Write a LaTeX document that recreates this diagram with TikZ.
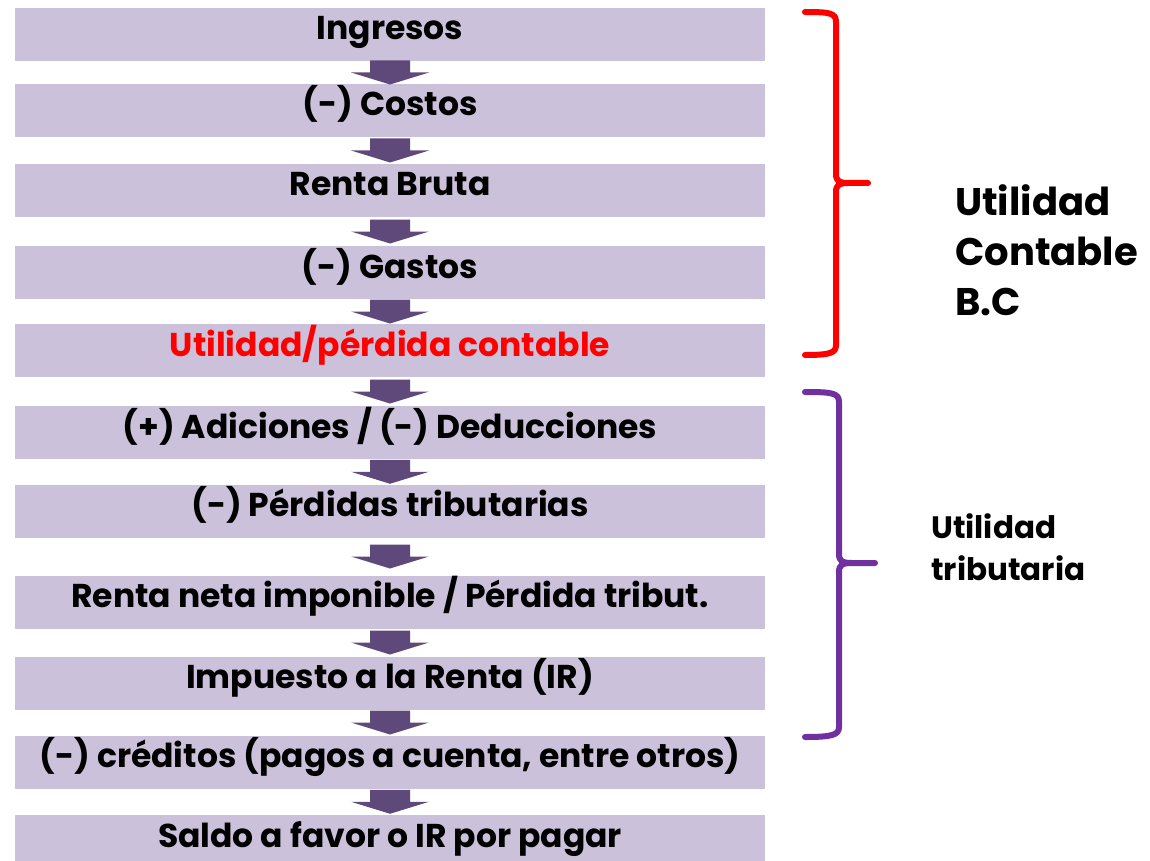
\documentclass[tikz,border=0pt]{standalone}
\usepackage{fontspec}
\setmainfont{Poppins}[BoldFont={* Bold}]
\usetikzlibrary{calc}
\definecolor{boxfill}{HTML}{CCC1DA}
\definecolor{arrowfill}{HTML}{5F497A}
\definecolor{bracered}{HTML}{FF0000}
\definecolor{bracepurple}{HTML}{7030A0}
\tikzset{
  flowbox/.style={fill=boxfill, draw=none, minimum width=750pt, inner xsep=0pt, inner ysep=0pt,
    text height=32pt, text depth=21pt, minimum height=53pt, font=\fontsize{33}{38}\selectfont\bfseries},
  flowarrow/.style={fill=arrowfill, draw=none},
  bracestroke/.style={line width=6pt, line cap=round, line join=round},
  sidelabel/.style={anchor=north west, align=left, inner sep=0pt, font=\bfseries},
}
\newcommand{\downarrowbetween}[2]{%
  \path let \p1=($(#1.south)!0.5!(#2.north)$) in
    [flowarrow] (\x1-20pt,\y1+12pt) -- (\x1+20pt,\y1+12pt) -- (\x1+20pt,\y1) -- (\x1+39pt,\y1)
    -- (\x1,\y1-12pt) -- (\x1-39pt,\y1) -- (\x1-20pt,\y1) -- cycle;}
\begin{document}
\begin{tikzpicture}[x=1pt,y=-1pt]
\clip (0,0) rectangle (1150,861);
\useasboundingbox (0,0) rectangle (1150,861);
\node[flowbox] (b1) at (390,34.5) {Ingresos};
\node[flowbox] (b2) at (390,110.5) {(-) Costos};
\node[flowbox] (b3) at (390,190.5) {Renta Bruta};
\node[flowbox] (b4) at (390,272.5) {(-) Gastos};
\node[flowbox, text=bracered] (b5) at (390,350.5) {Utilidad/pérdida contable};
\node[flowbox] (b6) at (390,432.5) {(+) Adiciones / (-) Deducciones};
\node[flowbox] (b7) at (390,511) {(-) Pérdidas tributarias};
\node[flowbox] (b8) at (390,602) {Renta neta imponible / Pérdida tribut.};
\node[flowbox] (b9) at (390,683) {Impuesto a la Renta (IR)};
\node[flowbox] (b10) at (390,762) {(-) créditos (pagos a cuenta, entre otros)};
\node[flowbox] (b11) at (390,841.5) {Saldo a favor o IR por pagar};
\downarrowbetween{b1}{b2}
\downarrowbetween{b2}{b3}
\downarrowbetween{b3}{b4}
\downarrowbetween{b4}{b5}
\downarrowbetween{b5}{b6}
\downarrowbetween{b6}{b7}
\downarrowbetween{b7}{b8}
\downarrowbetween{b8}{b9}
\downarrowbetween{b9}{b10}
\downarrowbetween{b10}{b11}
% red brace
\draw[bracestroke, draw=bracered] (805,12) .. controls (830,12) and (836,13) .. (836,22) -- (836,174)
  .. controls (836,181) and (839,183) .. (848,183) -- (868,183);
\draw[bracestroke, draw=bracered] (848,183) .. controls (839,183) and (836,185) .. (836,192) -- (836,345)
  .. controls (836,353) and (830,355) .. (805,355);
% purple brace
\draw[bracestroke, draw=bracepurple] (805,392) .. controls (832,392) and (839,393) .. (839,402) -- (839,554)
  .. controls (839,561) and (842,563) .. (852,563) -- (875,563);
\draw[bracestroke, draw=bracepurple] (852,563) .. controls (842,563) and (839,565) .. (839,572) -- (839,727)
  .. controls (839,735) and (832,737) .. (805,737);
\node[sidelabel, font=\fontsize{38.5}{50}\selectfont\bfseries] (lc) at (955,184) {Utilidad\\Contable\\B.C};
\node[sidelabel, font=\fontsize{31}{42}\selectfont\bfseries] (lt) at (931,513) {Utilidad\\tributaria};
\end{tikzpicture}
\end{document}
